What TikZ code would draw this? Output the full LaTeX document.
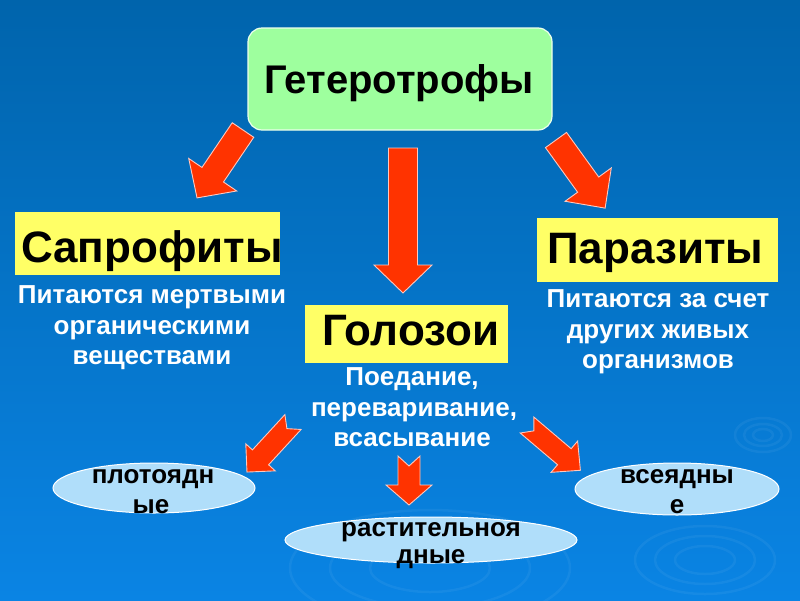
\documentclass[tikz,border=0pt]{standalone}
\usepackage{fontspec}
\setmainfont{Liberation Sans}
\usetikzlibrary{shapes.geometric}
\definecolor{bgtop}{HTML}{0064AC}
\definecolor{bgmid}{HTML}{0068B3}
\definecolor{bgbot}{HTML}{0A84E4}
\definecolor{arrred}{HTML}{FF3300}
\definecolor{arredge}{HTML}{FFC8BE}
\definecolor{boxgreen}{HTML}{9EFF9E}
\definecolor{boxyellow}{HTML}{FFFF66}
\definecolor{ellblue}{HTML}{B0DEFA}
\tikzset{
 greenbox/.style={draw=white!80!boxgreen, line width=1.2pt, fill=boxgreen, rounded corners=14pt, inner sep=0pt},
 ybox/.style={fill=boxyellow, inner sep=0pt},
 titletext/.style={font=\bfseries\fontsize{44}{50}\selectfont, text=black, inner sep=0pt},
 toptext/.style={font=\bfseries\fontsize{40}{46}\selectfont, text=black, inner sep=0pt},
 desc/.style={font=\bfseries\fontsize{26}{30}\selectfont, text=white, inner sep=0pt, anchor=base},
 ell/.style={ellipse, draw=white, line width=1pt, fill=ellblue, inner sep=0pt},
 elltext/.style={font=\bfseries\fontsize{26}{30}\selectfont, text=black, inner sep=0pt, anchor=base},
 barrow/.style={fill=arrred, draw=arredge, line width=0.9pt, line join=miter},
 ripple/.style={draw=white, opacity=0.05, line width=2.5pt},
}
% #1 x, #2 y (tail centre), #3 angle, #4 length, #5 shaft half width,
% #6 head half width, #7 head length, #8 notch depth
\newcommand{\blockarr}[8]{%
 \begin{scope}[shift={(#1,#2)}, rotate=#3]
  \filldraw[barrow] (0,{#5}) -- ({#4-#7},{#5}) -- ({#4-#7},{#6}) -- ({#4},0)
   -- ({#4-#7},{-#6}) -- ({#4-#7},{-#5}) -- (0,{-#5}) -- ({#8},0) -- cycle;
 \end{scope}}
\begin{document}
\begin{tikzpicture}[x=1pt,y=-1pt]
\useasboundingbox (0,0) rectangle (800,600);
% background
\shade[top color=bgtop, middle color=bgmid, bottom color=bgbot] (0,0) rectangle (800,600);
% ripples
\foreach \a/\b in {10/6,19/11,28/17} \draw[ripple] (763,435) ellipse ({\a} and {\b});
\foreach \a/\b in {30/14,50/24,70/34} \draw[ripple] (705,560) ellipse ({\a} and {\b});
\foreach \a/\b in {60/24,100/40,140/58} \draw[ripple] (430,568) ellipse ({\a} and {\b});
% top box
\node[greenbox, minimum width=304pt, minimum height=102pt] (hetbox) at (400,79) {};
\node[toptext, anchor=base] (het) at (399,93) {Гетеротрофы};
% big arrows
\blockarr{243}{130}{-124.1}{82}{13}{29}{28}{0}
\blockarr{403}{148}{-90}{145}{14.5}{29}{28}{0}
\blockarr{556}{140}{-54.2}{84}{13}{28.5}{29}{0}
% yellow boxes
\node[ybox, minimum width=265pt, minimum height=63pt] (sapbox) at (147.5,243.5) {};
\node[titletext, anchor=base west] (sap) at (21,262) {Сапрофиты};
\node[ybox, minimum width=241pt, minimum height=64pt] (parbox) at (657.5,250) {};
\node[titletext, anchor=base west] (par) at (547,263) {Паразиты};
\node[ybox, minimum width=203pt, minimum height=58pt] (golbox) at (406.5,334) {};
\node[titletext, anchor=base west] (gol) at (322,345) {Голозои};
% descriptions
\node[desc] (sapd1) at (152,303) {Питаются мертвыми};
\node[desc] (sapd2) at (152,334) {органическими};
\node[desc] (sapd3) at (152,364) {веществами};
\node[desc] (pard1) at (658,307) {Питаются за счет};
\node[desc] (pard2) at (658,338) {других живых};
\node[desc] (pard3) at (658,368) {организмов};
\node[desc] (gold1) at (412,385) {Поедание,};
\node[desc] (gold2) at (414,416) {переваривание,};
\node[desc] (gold3) at (412,446) {всасывание};
% small arrows
\blockarr{293}{422}{-132.6}{68}{11}{20}{20}{9}
\blockarr{409}{456}{-90}{49}{11}{23}{20}{10}
\blockarr{527}{425}{-40.3}{70}{10.5}{20.5}{21}{9}
% ellipses
\node[ell, minimum width=202pt, minimum height=50pt] (carnell) at (154,488) {};
\node[elltext] (carn1) at (153,483) {плотоядн};
\node[elltext] (carn2) at (151,513) {ые};
\node[ell, minimum width=292pt, minimum height=46pt] (herbell) at (431,540) {};
\node[elltext] (herb1) at (431,536) {растительноя};
\node[elltext] (herb2) at (431,563) {дные};
\node[ell, minimum width=204pt, minimum height=52pt] (omnell) at (677,489) {};
\node[elltext] (omn1) at (677,483) {всеядны};
\node[elltext] (omn2) at (677,513) {е};
\end{tikzpicture}
\end{document}
